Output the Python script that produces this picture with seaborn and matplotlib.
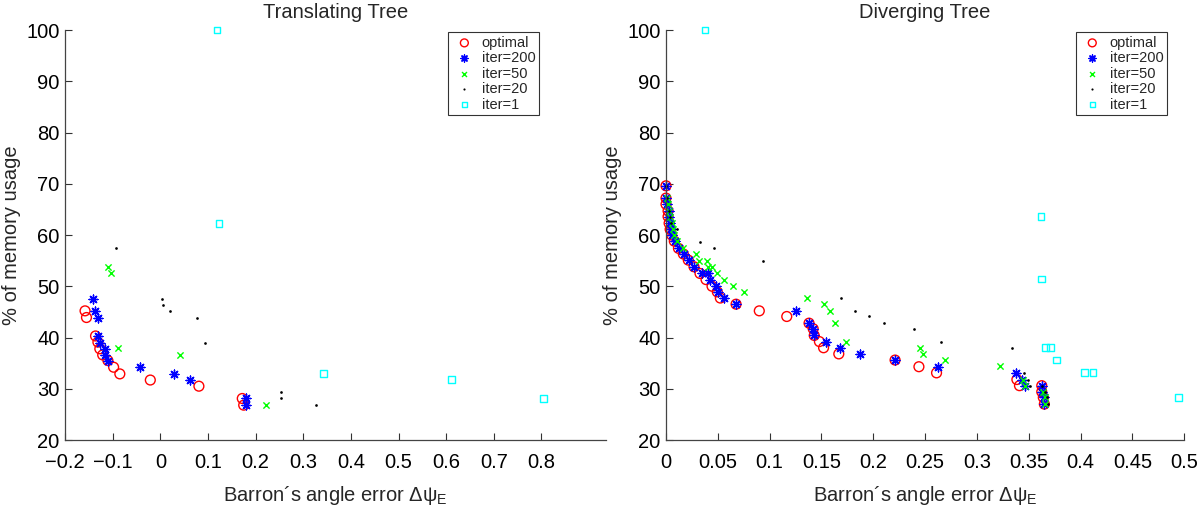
import numpy as np
import pandas as pd
import seaborn as sns
import matplotlib.pyplot as plt
from matplotlib.ticker import FixedLocator, FuncFormatter

# Translating tree
opt_left_x = [-0.158, -0.155, -0.136, -0.131, -0.127, -0.121, -0.110, -0.098, -0.085, -0.021, 0.081, 0.172, 0.175]
opt_left_y = [45.2, 43.9, 40.3, 39.1, 37.8, 36.6, 35.5, 34.2, 32.9, 31.7, 30.5, 28.1, 26.8]
it200_left_x = [-0.142, -0.137, -0.131, -0.130, -0.127, -0.117, -0.117, -0.109, -0.042, 0.028, 0.063, 0.179, 0.180]
it200_left_y = [47.6, 45.2, 43.9, 40.3, 39.0, 37.8, 36.6, 35.5, 34.2, 32.9, 31.7, 28.1, 26.8]
it50_left_x = [-0.110, -0.103, -0.089, 0.042, 0.222]
it50_left_y = [53.7, 52.5, 37.9, 36.6, 26.8]
it20_left_x = [-0.093, 0.004, 0.005, 0.021, 0.076, 0.093, 0.253, 0.253, 0.327]
it20_left_y = [57.4, 47.6, 46.4, 45.2, 43.9, 39.0, 29.3, 28.1, 26.8]
it1_left_x = [0.119, 0.123, 0.342, 0.611, 0.805]
it1_left_y = [100.0, 62.3, 32.9, 31.8, 28.1]

# Diverging tree
opt_right_x = [0.0, 0.0, 0.0, 0.002, 0.002, 0.003, 0.004, 0.0055, 0.008, 0.012, 0.0167, 0.0215, 0.027, 0.0328,
               0.0386, 0.0444, 0.0495, 0.0524, 0.0676, 0.090, 0.1165, 0.138, 0.142, 0.143, 0.148, 0.152, 0.1667,
               0.221, 0.244, 0.261, 0.3385, 0.341, 0.3625, 0.3625, 0.364, 0.365]
opt_right_y = [69.6, 67.2, 66.0, 64.7, 63.6, 62.3, 61.1, 60.0, 58.8, 57.4, 56.3, 55.1, 53.8, 52.5, 51.3, 50.0,
               48.9, 47.7, 46.5, 45.2, 44.1, 42.8, 41.7, 40.4, 39.2, 38.0, 36.8, 35.6, 34.3, 33.1, 31.8, 30.6,
               30.6, 29.4, 28.3, 27.0]
it200_right_x = [0.0, 0.0, 0.001, 0.003, 0.003, 0.004, 0.005, 0.006, 0.009, 0.013, 0.017, 0.022, 0.027, 0.0345,
                 0.041, 0.0425, 0.048, 0.050, 0.056, 0.0676, 0.125, 0.138, 0.142, 0.143, 0.154, 0.168, 0.187,
                 0.221, 0.262, 0.3375, 0.343, 0.346, 0.3625, 0.363, 0.365, 0.365]
it200_right_y = [69.6, 67.2, 66.0, 64.7, 63.6, 62.3, 61.1, 60.0, 58.8, 57.4, 56.3, 55.1, 53.8, 52.5, 52.5, 51.3,
                 50.0, 48.9, 47.7, 46.5, 45.2, 42.8, 41.7, 40.4, 39.2, 38.0, 36.8, 35.6, 34.3, 33.1, 31.8, 30.6,
                 30.6, 29.4, 28.3, 27.0]
it50_right_x = [0.001, 0.002, 0.003, 0.004, 0.006, 0.007, 0.008, 0.0103, 0.0167, 0.0287, 0.032, 0.040, 0.041,
                0.044, 0.049, 0.0557, 0.0644, 0.0756, 0.136, 0.152, 0.158, 0.1634, 0.174, 0.245, 0.248, 0.269,
                0.3224, 0.344, 0.3465, 0.364, 0.366, 0.366]
it50_right_y = [67.2, 66.0, 64.7, 63.6, 62.3, 61.1, 60.0, 58.8, 57.4, 56.2, 55.0, 55.0, 53.8, 53.8, 52.5, 51.3,
                50.0, 48.9, 47.7, 46.5, 45.2, 42.8, 39.2, 38.0, 36.8, 35.6, 34.4, 31.8, 30.6, 29.4, 28.3, 27.0]
it20_right_x = [0.0, 0.001, 0.003, 0.004, 0.005, 0.0103, 0.0328, 0.0467, 0.094, 0.169, 0.182, 0.196, 0.210,
                0.239, 0.265, 0.334, 0.345, 0.349, 0.351, 0.363, 0.366, 0.368, 0.369]
it20_right_y = [69.6, 67.2, 64.7, 63.6, 62.3, 61.1, 58.7, 57.4, 55.0, 47.7, 45.2, 44.1, 42.8, 41.6, 39.2, 38.0,
                33.1, 31.8, 30.6, 30.6, 29.4, 28.3, 27.0]
it1_right_x = [0.0376, 0.3617, 0.3626, 0.3665, 0.3707, 0.3768, 0.404, 0.412, 0.4945]
it1_right_y = [100.0, 63.6, 51.4, 38.0, 38.0, 35.6, 33.1, 33.1, 28.3]

labels = ['optimal', 'iter=200', 'iter=50', 'iter=20', 'iter=1']
titles = ['Translating Tree', 'Diverging Tree']
xticks_left = [-0.2, -0.1, 0, 0.1, 0.2, 0.3, 0.4, 0.5, 0.6, 0.7, 0.8]
xticks_right = [0, 0.05, 0.1, 0.15, 0.2, 0.25, 0.3, 0.35, 0.4, 0.45, 0.5]
yticks = [20, 30, 40, 50, 60, 70, 80, 90, 100]

sns.set_theme(style='white')
plt.rcParams['font.family'] = ['Liberation Sans', 'DejaVu Sans']
plt.rcParams['mathtext.fontset'] = 'custom'
plt.rcParams['mathtext.rm'] = 'Liberation Sans'

# marker styles like matlab: o, *, x, ., s
styles = [
    dict(marker='o', color='none', edgecolor='red', s=50, linewidth=1.0),
    dict(marker=(8, 2, 0), color='blue', s=40, linewidth=1.0),
    dict(marker='x', color='#00ff00', s=20, linewidth=1.0),
    dict(marker='.', color='black', s=15, linewidth=0),
    dict(marker='s', color='none', edgecolor='cyan', s=24, linewidth=1.0),
]

left_series = [(opt_left_x, opt_left_y), (it200_left_x, it200_left_y), (it50_left_x, it50_left_y),
               (it20_left_x, it20_left_y), (it1_left_x, it1_left_y)]
right_series = [(opt_right_x, opt_right_y), (it200_right_x, it200_right_y), (it50_right_x, it50_right_y),
                (it20_right_x, it20_right_y), (it1_right_x, it1_right_y)]

fig = plt.figure(figsize=(12, 5.13), dpi=100)
ax1 = fig.add_axes([0.0542, 0.1423, 0.4506, 0.7992])
ax2 = fig.add_axes([0.555, 0.1423, 0.4319, 0.7992])


def minus_fmt(v, pos):
    return ('%g' % round(v, 3)).replace('-', '\u2212')


panels = [(ax1, left_series, (-0.2, 0.935), xticks_left, 0.877),
          (ax2, right_series, (0, 0.5), xticks_right, 0.967)]

for i, (ax, series, xlim, xticks, leg_x) in enumerate(panels):
    for (xs, ys), lab, st in zip(series, labels, styles):
        df = pd.DataFrame({'x': xs, 'y': ys})
        sns.scatterplot(data=df, x='x', y='y', ax=ax, label=lab, clip_on=False, **st)

    ax.set_xlim(*xlim)
    ax.set_ylim(20, 100)
    ax.xaxis.set_major_locator(FixedLocator(xticks))
    ax.yaxis.set_major_locator(FixedLocator(yticks))
    ax.xaxis.set_major_formatter(FuncFormatter(minus_fmt))
    ax.tick_params(direction='in', length=5, width=0.8, colors='#333333', labelcolor='black',
                   labelsize=14.5, bottom=True, left=True)
    ax.tick_params(axis='x', pad=9)
    ax.tick_params(axis='y', pad=4)
    for side in ['top', 'right']:
        ax.spines[side].set_visible(False)
    for side in ['left', 'bottom']:
        ax.spines[side].set_color('#444444')
        ax.spines[side].set_linewidth(0.9)

    ax.set_title(titles[i], fontsize=14.5, pad=9)
    ax.set_xlabel('Barron\u00b4s angle error \u0394\u03c8$_\\mathregular{E}$', fontsize=14.5, labelpad=9)
    ax.set_ylabel('% of memory usage', fontsize=14.5, labelpad=4)

    leg = ax.legend(loc='upper right', bbox_to_anchor=(leg_x, 0.995), fontsize=10.5, frameon=True,
                    fancybox=False, edgecolor='black', borderpad=0.25, labelspacing=0.1,
                    handletextpad=0.3, handlelength=1.8, borderaxespad=0, markerscale=0.8)
    leg.get_frame().set_linewidth(0.8)

fig.savefig('out.png', dpi=100)
